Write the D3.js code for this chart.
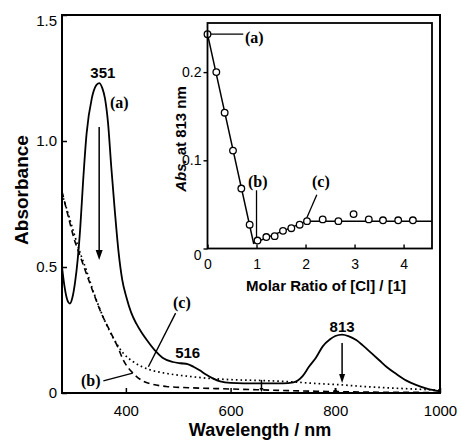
<!DOCTYPE html>
<html>
<head>
<meta charset="utf-8">
<script src="https://cdn.jsdelivr.net/npm/d3@7"></script>
<style>
body { margin: 0; background: #fff; }
svg text { font-family: "Liberation Sans", Arial, Helvetica, sans-serif; fill: #000; }
text.tag { font-family: "Liberation Serif", "Times New Roman", serif; font-weight: bold; font-size: 16px; }
text.peak { font-weight: bold; font-size: 15px; }
.tick text { font-size: 15px; }
.inset .tick text { font-size: 14px; }
</style>
</head>
<body>
<svg id="chart" width="461" height="441"></svg>
<script>
// spectra: [wavelength / nm, absorbance]
var spectrumA = [[278,0.50],[283,0.42],[288,0.37],[293,0.355],[298,0.38],[303,0.44],[308,0.53],[313,0.66],
    [318,0.83],[325,1.03],[335,1.17],[343,1.22],[349,1.23],[355,1.21],[360,1.17],[366,1.07],[372,0.90],
    [379,0.72],[386,0.56],[393,0.45],[401,0.38],[410,0.32],[420,0.275],[430,0.24],[440,0.21],[455,0.17],
    [470,0.14],[490,0.123],[505,0.118],[518,0.115],[530,0.103],[541,0.09],[553,0.073],[566,0.058],
    [580,0.046],[600,0.04],[650,0.038],[700,0.038],[720,0.042],[738,0.068],[750,0.105],[763,0.14],
    [776,0.185],[790,0.213],[800,0.226],[813,0.232],[825,0.226],[840,0.21],[852,0.19],[868,0.16],
    [884,0.13],[900,0.10],[916,0.076],[935,0.05],[954,0.032],[975,0.017],[1000,0.006]];
var spectrumB = [[278,0.80],[290,0.70],[300,0.62],[315,0.53],[334,0.42],[353,0.317],[372,0.236],[385,0.18],
    [395,0.131],[414,0.078],[433,0.047],[450,0.035],[477,0.026],[520,0.021],[600,0.016],[650,0.013],
    [700,0.01],[789,0.006],[850,0.004],[1000,0.002]];
var spectrumC = [[278,0.79],[290,0.71],[300,0.64],[312,0.56],[324,0.49],[340,0.39],[359,0.29],[381,0.20],
    [395,0.158],[414,0.124],[430,0.105],[446,0.092],[477,0.078],[520,0.066],[560,0.058],[600,0.053],
    [650,0.05],[712,0.045],[760,0.038],[813,0.032],[860,0.025],[915,0.019],[960,0.015],[1000,0.011]];

var wavelengthTicks = [400, 600, 800, 1000];
var absorbanceTicks = [0, 0.5, 1.0, 1.5];

// inset: titration followed at 813 nm
var molarRatio = [0, 0.18, 0.35, 0.52, 0.69, 0.86, 1.02, 1.2, 1.37, 1.54, 1.71, 1.88, 2.03, 2.35, 2.67, 2.98, 3.29, 3.58, 3.89, 4.19];
var abs813 = [0.243, 0.200, 0.154, 0.111, 0.068, 0.027, 0.009, 0.013, 0.014, 0.020, 0.023, 0.027, 0.031, 0.033, 0.031, 0.039, 0.033, 0.032, 0.032, 0.032];
var fitRatio = [0, 0.94, 2.02, 4.58];
var fitAbs = [0.243, 0.006, 0.031, 0.031];
var ratioTicks = [0, 1, 2, 3, 4];
var insetAbsTicks = [0, 0.1, 0.2];

var svg = d3.select("#chart");

/* SCALES */
var x = d3.scaleLinear().domain([278, 1000]).range([62, 440]),
    y = d3.scaleLinear().domain([0, 1.5]).range([393, 15]),
    ix = d3.scaleLinear().domain([0, 4.58]).range([207.5, 432]),
    iy = d3.scaleLinear().domain([0, 0.2557]).range([248.5, 23]);

function numFormat(d) {
    return d === 0 ? "0" : d3.format(".1f")(d);
}

function arrow(g, x0, y0, x1, y1, len, half) {
    g.append("line")
        .attr("x1", x0).attr("y1", y0)
        .attr("x2", x1).attr("y2", y1 - len)
        .attr("stroke", "#000").attr("stroke-width", 1.5);
    g.append("path")
        .attr("d", "M" + (x1 - half) + "," + (y1 - len) + "L" + (x1 + half) + "," + (y1 - len) + "L" + x1 + "," + y1 + "Z")
        .attr("fill", "#000");
}

/* MAIN PLOT */
var main = svg.append("g").classed("main", true);

var line = d3.line()
    .x(function (d) { return x(d[0]); })
    .y(function (d) { return y(d[1]); })
    .curve(d3.curveMonotoneX);

main.append("path").datum(spectrumB)
    .attr("d", line).attr("fill", "none").attr("stroke", "#000")
    .attr("stroke-width", 1.6).attr("stroke-dasharray", "6,4");
main.append("path").datum(spectrumC)
    .attr("d", line).attr("fill", "none").attr("stroke", "#000")
    .attr("stroke-width", 1.7).attr("stroke-dasharray", "1.6,3");
main.append("path").datum(spectrumA)
    .attr("d", line).attr("fill", "none").attr("stroke", "#000")
    .attr("stroke-width", 1.8);

var xAxis = main.append("g")
    .attr("transform", "translate(0," + y(0) + ")")
    .call(d3.axisBottom(x).tickValues(wavelengthTicks).tickSize(-5).tickPadding(12).tickFormat(d3.format("d")));
var yAxis = main.append("g")
    .attr("transform", "translate(" + x(278) + ",0)")
    .call(d3.axisLeft(y).tickValues(absorbanceTicks).tickSize(-5).tickPadding(5).tickFormat(numFormat));
[xAxis, yAxis].forEach(function (a) {
    a.select(".domain").remove();
    a.selectAll(".tick line").attr("stroke", "#000").attr("stroke-width", 1.5);
    a.selectAll(".tick text").attr("font-family", null).attr("font-size", null);
});
yAxis.selectAll(".tick text").filter(function (d) { return d === 1.5; }).attr("dy", "0.7em");

main.append("rect")
    .attr("x", x(278)).attr("y", y(1.5))
    .attr("width", x(1000) - x(278)).attr("height", y(0) - y(1.5))
    .attr("fill", "none").attr("stroke", "#000").attr("stroke-width", 2);

main.append("text")
    .attr("transform", "translate(28,190) rotate(-90)")
    .attr("text-anchor", "middle")
    .style("font-size", "19px").style("font-weight", "bold")
    .text("Absorbance");
main.append("text")
    .attr("x", 260).attr("y", 436)
    .attr("text-anchor", "middle")
    .style("font-size", "18px").style("font-weight", "bold")
    .text("Wavelength / nm");

// peak labels and arrows
main.append("text").classed("peak", true).attr("x", x(356)).attr("y", 78).attr("text-anchor", "middle").text("351");
main.append("text").classed("peak", true).attr("x", x(518)).attr("y", 358).attr("text-anchor", "middle").text("516");
main.append("text").classed("peak", true).attr("x", x(813)).attr("y", 332).attr("text-anchor", "middle").text("813");
arrow(main, x(349), y(1.056), x(349), y(0.528), 10, 3.5);
arrow(main, x(813), y(0.198), x(813), y(0.04), 9, 3);
arrow(main, x(659), y(0.052), x(659), y(0.004), 4, 2);
arrow(main, x(800), y(0.02), x(800), y(0.0), 3, 2);

// curve tags
main.append("text").classed("tag", true).attr("x", 110).attr("y", 108).text("(a)");
main.append("text").classed("tag", true).attr("x", 173).attr("y", 308).text("(c)");
main.append("text").classed("tag", true).attr("x", 81).attr("y", 386).text("(b)");
main.append("line")
    .attr("x1", x(495)).attr("y1", y(0.317)).attr("x2", x(443)).attr("y2", y(0.104))
    .attr("stroke", "#000").attr("stroke-width", 1.4);
main.append("line")
    .attr("x1", x(357)).attr("y1", y(0.048)).attr("x2", x(413)).attr("y2", y(0.079))
    .attr("stroke", "#000").attr("stroke-width", 1.4);

/* INSET */
var inset = svg.append("g").classed("inset", true);

inset.append("rect")
    .attr("x", ix(0)).attr("y", iy(0.2557))
    .attr("width", ix(4.58) - ix(0)).attr("height", iy(0) - iy(0.2557))
    .attr("fill", "#fff");

var fitLine = d3.line()
    .x(function (d) { return ix(d[0]); })
    .y(function (d) { return iy(d[1]); });
inset.append("path")
    .datum(d3.zip(fitRatio, fitAbs))
    .attr("d", fitLine).attr("fill", "none").attr("stroke", "#000").attr("stroke-width", 1.5);

inset.append("line")
    .attr("x1", ix(0)).attr("y1", iy(0.243)).attr("x2", ix(0.73)).attr("y2", iy(0.243))
    .attr("stroke", "#000").attr("stroke-width", 1.3);
inset.append("line")
    .attr("x1", ix(1.0)).attr("y1", iy(0.066)).attr("x2", ix(1.0)).attr("y2", iy(0.009))
    .attr("stroke", "#000").attr("stroke-width", 1.3);
inset.append("line")
    .attr("x1", ix(2.23)).attr("y1", iy(0.061)).attr("x2", ix(2.02)).attr("y2", iy(0.034))
    .attr("stroke", "#000").attr("stroke-width", 1.3);

inset.selectAll("circle.pt")
    .data(d3.zip(molarRatio, abs813))
    .enter()
    .append("circle")
    .classed("pt", true)
    .attr("cx", function (d) { return ix(d[0]); })
    .attr("cy", function (d) { return iy(d[1]); })
    .attr("r", 3.3)
    .attr("fill", "#fff").attr("stroke", "#000").attr("stroke-width", 1.3);

var ixAxis = inset.append("g")
    .attr("transform", "translate(0," + iy(0) + ")")
    .call(d3.axisBottom(ix).tickValues(ratioTicks).tickSize(-4).tickPadding(11).tickFormat(d3.format("d")));
var iyAxis = inset.append("g")
    .attr("transform", "translate(" + ix(0) + ",0)")
    .call(d3.axisLeft(iy).tickValues(insetAbsTicks).tickSize(4).tickPadding(2).tickFormat(numFormat));
[ixAxis, iyAxis].forEach(function (a) {
    a.select(".domain").remove();
    a.selectAll(".tick line").attr("stroke", "#000").attr("stroke-width", 1.4);
    a.selectAll(".tick text").attr("font-family", null).attr("font-size", null);
});
iyAxis.selectAll(".tick text").filter(function (d) { return d === 0; }).attr("dy", "0.8em");

inset.append("rect")
    .attr("x", ix(0)).attr("y", iy(0.2557))
    .attr("width", ix(4.58) - ix(0)).attr("height", iy(0) - iy(0.2557))
    .attr("fill", "none").attr("stroke", "#000").attr("stroke-width", 1.8);

inset.append("text").classed("tag", true).attr("x", 245).attr("y", 43).text("(a)");
inset.append("text").classed("tag", true).attr("x", 248).attr("y", 187).text("(b)");
inset.append("text").classed("tag", true).attr("x", 312).attr("y", 187).text("(c)");

var insetY = inset.append("text")
    .attr("transform", "translate(186,139) rotate(-90)")
    .attr("text-anchor", "middle")
    .style("font-size", "15px").style("font-weight", "bold");
insetY.append("tspan").style("font-style", "italic").text("Abs.");
insetY.append("tspan").attr("dx", 4).text("at 813 nm");

inset.append("text")
    .attr("x", 326).attr("y", 291)
    .attr("text-anchor", "middle")
    .style("font-size", "15px").style("font-weight", "bold")
    .text("Molar Ratio of [Cl] / [1]");
</script>
</body>
</html>
